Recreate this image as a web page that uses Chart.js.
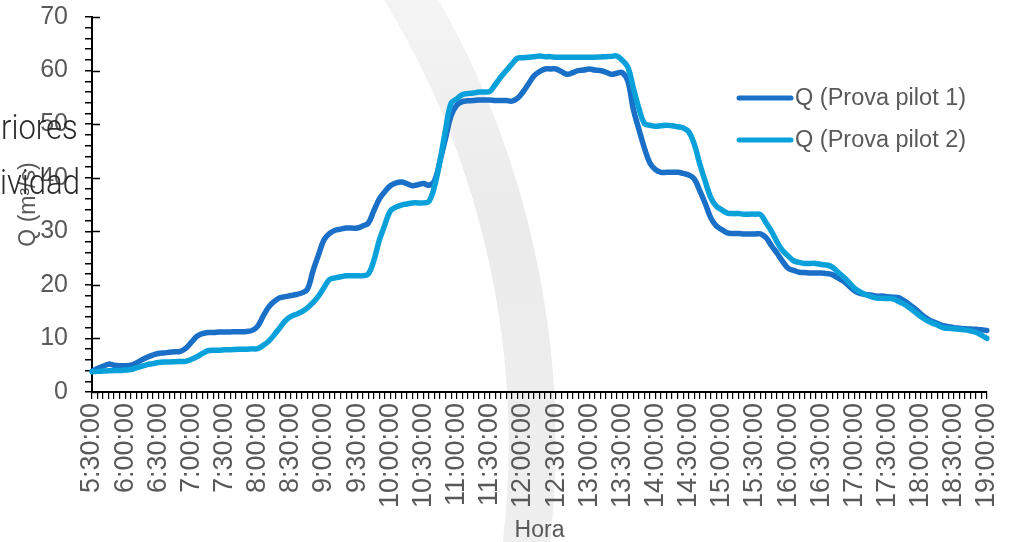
<!DOCTYPE html>
<html>
<head>
<meta charset="utf-8">
<script src="https://cdn.jsdelivr.net/npm/chart.js@4/dist/chart.umd.min.js"></script>
<style>
  html, body { margin: 0; padding: 0; background: #ffffff; }
  #wrap { width: 1015px; height: 542px; position: relative; }
</style>
</head>
<body>
<div id="wrap"><canvas id="chart"></canvas></div>
<script>
// Time stamps every 5 minutes, 5:30:00 to 19:00:00
const timeLabels = [];
for (let m = 5 * 60 + 30; m <= 19 * 60; m += 5) {
  const h = Math.floor(m / 60), mm = m % 60;
  timeLabels.push(h + ':' + String(mm).padStart(2, '0') + ':00');
}

// Flow Q (m³/s), pilot test 1
const qPilot1 = [
  3.9, 4.4, 4.8, 5.2, 5.0, 4.9,
  4.9, 5.0, 5.4, 6.0, 6.5, 6.9,
  7.2, 7.3, 7.4, 7.5, 7.6, 8.2,
  9.3, 10.4, 10.9, 11.1, 11.1, 11.2,
  11.2, 11.2, 11.25, 11.25, 11.3, 11.5,
  12.3, 14.2, 15.9, 16.9, 17.6, 17.8,
  18.0, 18.2, 18.5, 19.2, 22.6, 25.6,
  28.4, 29.6, 30.2, 30.4, 30.6, 30.6,
  30.6, 31.0, 31.5, 33.8, 36.0, 37.4,
  38.5, 39.0, 39.2, 38.9, 38.5, 38.7,
  38.9, 38.6, 39.4, 43.2, 47.4, 51.6,
  53.5, 54.2, 54.35, 54.4, 54.5, 54.5,
  54.5, 54.4, 54.4, 54.4, 54.3, 54.8,
  56.0, 57.5, 59.0, 59.8, 60.3, 60.3,
  60.3, 59.8, 59.3, 59.6, 60.0, 60.1,
  60.3, 60.1, 60.0, 59.7, 59.3, 59.5,
  59.6, 58.0, 52.7, 49.0, 45.5, 42.7,
  41.5, 41.0, 41.0, 41.0, 41.0, 40.8,
  40.5, 39.8, 37.6, 35.2, 32.5, 31.0,
  30.3, 29.7, 29.6, 29.6, 29.5, 29.5,
  29.5, 29.5, 28.8, 27.3, 25.9, 24.4,
  23.1, 22.7, 22.35, 22.3, 22.2, 22.2,
  22.2, 22.1, 21.9, 21.3, 20.7, 19.8,
  18.9, 18.4, 18.2, 18.1, 17.9, 17.9,
  17.8, 17.7, 17.6, 17.0, 16.3, 15.5,
  14.6, 13.8, 13.2, 12.8, 12.4, 12.2,
  12.0, 11.9, 11.8, 11.75, 11.7, 11.6,
  11.5
];

// Flow Q (m³/s), pilot test 2
const qPilot2 = [
  3.8, 3.85, 3.9, 3.95, 4.0, 4.0,
  4.1, 4.2, 4.5, 4.8, 5.1, 5.3,
  5.5, 5.6, 5.6, 5.65, 5.7, 5.75,
  6.1, 6.6, 7.2, 7.7, 7.8, 7.8,
  7.9, 7.9, 7.95, 8.0, 8.0, 8.05,
  8.1, 8.7, 9.5, 10.7, 12.0, 13.3,
  14.1, 14.5, 15.0, 15.7, 16.7, 17.9,
  19.5, 21.0, 21.3, 21.5, 21.7, 21.7,
  21.7, 21.7, 22.0, 24.5, 28.3, 31.2,
  33.8, 34.5, 34.9, 35.1, 35.3, 35.3,
  35.3, 35.6, 38.4, 43.2, 49.0, 53.9,
  54.7, 55.5, 55.7, 55.8, 56.0, 56.0,
  56.1, 57.4, 58.8, 60.0, 61.2, 62.3,
  62.4, 62.5, 62.6, 62.7, 62.6, 62.6,
  62.5, 62.5, 62.5, 62.5, 62.5, 62.5,
  62.5, 62.5, 62.55, 62.6, 62.65, 62.7,
  61.9, 60.6, 56.7, 52.9, 50.1, 49.8,
  49.6, 49.7, 49.8, 49.7, 49.5, 49.3,
  48.6, 46.3, 42.6, 39.3, 36.3, 34.7,
  34.0, 33.4, 33.3, 33.3, 33.2, 33.2,
  33.2, 33.1, 31.6, 30.0, 28.0, 26.4,
  25.4, 24.5, 24.2, 24.0, 24.0, 24.0,
  23.8, 23.7, 23.3, 22.4, 21.5, 20.5,
  19.4, 18.7, 18.2, 17.8, 17.55, 17.5,
  17.45, 17.4, 16.9, 16.4, 15.7, 14.9,
  14.1, 13.4, 12.9, 12.5, 12.0, 11.9,
  11.8, 11.7, 11.6, 11.4, 11.15, 10.6,
  10.0
];

const seriesNames = ['Q (Prova pilot 1)', 'Q (Prova pilot 2)'];
const seriesColors = ['#1a6fc6', '#0aa1da'];
const yMajorTicks = [0, 10, 20, 30, 40, 50, 60, 70];
const labelEvery = 6; // one label per half hour

const GREY = '#595959';
const FONT = "'Liberation Sans', Arial, sans-serif";

// Pale arc in the page background
const backdrop = {
  id: 'backdrop',
  beforeDraw(chart) {
    const ctx = chart.ctx;
    ctx.save();
    ctx.fillStyle = '#ffffff';
    ctx.fillRect(0, 0, chart.width, chart.height);
    const g = ctx.createLinearGradient(0, 0, 0, chart.height);
    g.addColorStop(0, '#f4f4f4');
    g.addColorStop(0.4, '#ebebeb');
    g.addColorStop(1, '#efefef');
    ctx.strokeStyle = g;
    ctx.lineWidth = 47;
    ctx.beginPath();
    ctx.arc(-342, 443, 874, -0.62, 0.2);
    ctx.stroke();
    ctx.restore();
  }
};

// Inner half of the major value-axis ticks
const innerTicks = {
  id: 'innerTicks',
  beforeDatasetsDraw(chart) {
    const ys = chart.scales.y, ctx = chart.ctx, left = chart.chartArea.left;
    ctx.save();
    ctx.strokeStyle = '#000';
    ctx.lineWidth = 1.5;
    yMajorTicks.forEach(v => {
      const py = Math.round(ys.getPixelForValue(v)) + 0.5;
      ctx.beginPath();
      ctx.moveTo(left, py);
      ctx.lineTo(left + 8, py);
      ctx.stroke();
    });
    ctx.restore();
  }
};

// Legend inside the plot area, and the overlapping body text at the left edge
const overlay = {
  id: 'overlay',
  afterDraw(chart) {
    const ctx = chart.ctx;
    ctx.save();
    const rows = [98, 140];
    seriesNames.forEach((name, i) => {
      ctx.strokeStyle = seriesColors[i];
      ctx.lineWidth = 5;
      ctx.lineCap = 'round';
      ctx.beginPath();
      ctx.moveTo(739, rows[i]);
      ctx.lineTo(791, rows[i]);
      ctx.stroke();
      ctx.fillStyle = GREY;
      ctx.font = '23.5px ' + FONT;
      ctx.textBaseline = 'middle';
      ctx.textAlign = 'left';
      ctx.fillText(name, 795, rows[i] + 1);
    });
    ctx.restore();

    // tall, light body text cut off at the left edge
    ctx.save();
    ctx.fillStyle = '#2a2a2a';
    ctx.font = "300 31px Roboto, 'DejaVu Sans Condensed', sans-serif";
    ctx.textBaseline = 'alphabetic';
    ctx.scale(1, 1.14);
    ctx.fillText('riores', 1, 139 / 1.14);
    ctx.fillText('ividad', 0, 194 / 1.14);
    ctx.restore();
  }
};

new Chart(document.getElementById('chart'), {
  type: 'line',
  data: {
    labels: timeLabels,
    datasets: [
      { label: seriesNames[0], data: qPilot1, borderColor: seriesColors[0], order: 1 },
      { label: seriesNames[1], data: qPilot2, borderColor: seriesColors[1], order: 0 }
    ].map(d => Object.assign(d, {
      borderWidth: 5.5, pointRadius: 0, tension: 0.4, fill: false,
      borderCapStyle: 'round', borderJoinStyle: 'round'
    }))
  },
  options: {
    responsive: true,
    maintainAspectRatio: false,
    animation: false,
    layout: { padding: { top: 17, right: 28, left: 0, bottom: 0 } },
    plugins: { legend: { display: false }, tooltip: { enabled: false } },
    scales: {
      x: {
        type: 'category',
        offset: false,
        afterFit(scale) {
          scale.height = 150;
          scale.paddingLeft = 0;
          scale.paddingRight = 0;
        },
        border: { color: '#000', width: 2 },
        grid: { drawOnChartArea: false, color: '#000', lineWidth: 1.2, tickLength: 7 },
        ticks: {
          autoSkip: false, maxRotation: 90, minRotation: 90, padding: 4,
          color: GREY, font: { family: FONT, size: 27 },
          callback(value, index) { return index % labelEvery === 0 ? this.getLabelForValue(value) : ''; }
        },
        title: {
          display: true, text: 'Hora', color: GREY,
          font: { family: FONT, size: 23, lineHeight: 1 }, padding: { top: 0, bottom: 0 }
        }
      },
      y: {
        min: 0, max: 70,
        afterFit(scale) {
          scale.width = 92;
          scale.paddingTop = 0;
          scale.paddingBottom = 0;
        },
        border: { color: '#000', width: 2 },
        grid: { drawOnChartArea: false, color: '#000', lineWidth: 1.5, tickLength: 7 },
        ticks: {
          stepSize: 2, maxTicksLimit: 100, autoSkip: false, padding: 17,
          color: GREY, font: { family: FONT, size: 25 },
          callback(v) { return v % 10 === 0 ? v : ''; }
        },
        title: {
          display: true, text: 'Q (m³/s)', color: GREY,
          font: { family: FONT, size: 23, lineHeight: 1 }, padding: { top: 17, bottom: 0 }
        }
      }
    }
  },
  plugins: [backdrop, innerTicks, overlay]
});
</script>
</body>
</html>
